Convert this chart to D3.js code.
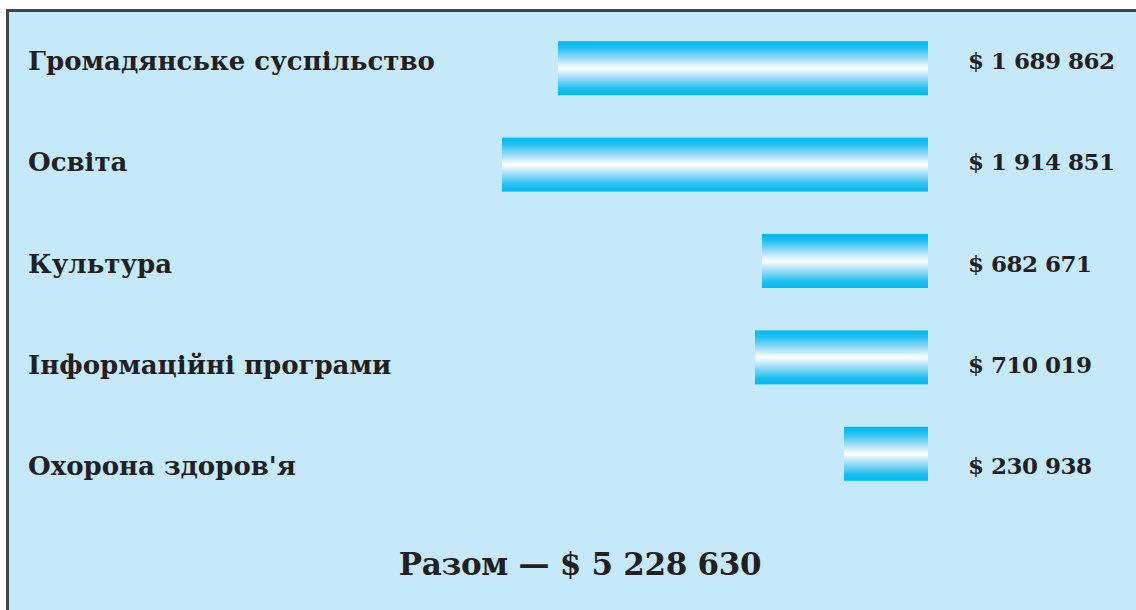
<!DOCTYPE html>
<html>
<head>
<meta charset="utf-8">
<script src="https://cdn.jsdelivr.net/npm/d3@7"></script>
<style>
  html, body { margin: 0; padding: 0; background: #fff; }
  text { font-family: "DejaVu Serif", "Liberation Serif", serif; font-weight: bold; fill: #231f20; }
</style>
</head>
<body>
<div id="chart"></div>
<script>
// categories and amounts as printed
const categories = ['Громадянське суспільство', 'Освіта', 'Культура', 'Інформаційні програми', "Охорона здоров'я"]
const amounts = [1689862, 1914851, 682671, 710019, 230938]
// bar lengths as drawn in the picture (the picture is not to scale), same units
const barLengths = [1663000, 1914851, 746000, 777600, 377600]
const totalAmount = 5228630
const totalLabel = 'Разом — '

const width = 1136
const height = 610

const fmt = v => '$ ' + d3.format(',')(v).replace(/,/g, ' ')

const svg = d3.select('#chart').append('svg')
    .attr('width', width)
    .attr('height', height)

const grad = svg.append('defs').append('linearGradient')
    .attr('id', 'barGrad')
    .attr('x1', 0).attr('y1', 0).attr('x2', 0).attr('y2', 1)
grad.selectAll('stop')
    .data([[0, '#00b9ef'], [0.12, '#1ec0f0'], [0.3, '#8fd8f6'], [0.5, '#ffffff'], [0.7, '#8fd8f6'], [0.88, '#1ec0f0'], [1, '#00b9ef']])
    .join('stop')
    .attr('offset', d => d[0])
    .attr('stop-color', d => d[1])

// panel
svg.append('rect')
    .attr('x', 7.5)
    .attr('y', 10.5)
    .attr('width', width)
    .attr('height', height)
    .attr('fill', '#c6e9f9')
    .attr('stroke', '#454545')
    .attr('stroke-width', 3)

const barRight = 928
const xScale = d3.scaleLinear()
    .domain([0, 2000000])
    .range([0, 445])

// rows for the text and for the bars
const textY = d3.scalePoint()
    .domain(categories)
    .range([61, 466])

const barY = d3.scaleBand()
    .domain(categories)
    .range([20, 502])
    .paddingInner(0.44)
    .paddingOuter(0.22)

const rows = categories.map((c, i) => ({cat: c, amount: amounts[i], len: barLengths[i]}))

svg.append('g').selectAll('rect')
    .data(rows)
    .join('rect')
    .attr('x', d => barRight - xScale(d.len))
    .attr('y', d => barY(d.cat))
    .attr('width', d => xScale(d.len))
    .attr('height', barY.bandwidth())
    .attr('fill', 'url(#barGrad)')

svg.append('g').selectAll('text')
    .data(rows)
    .join('text')
    .attr('x', 28)
    .attr('y', d => textY(d.cat))
    .attr('dy', '0.35em')
    .attr('font-size', 26)
    .text(d => d.cat)

svg.append('g').selectAll('text')
    .data(rows)
    .join('text')
    .attr('x', 968)
    .attr('y', d => textY(d.cat))
    .attr('dy', '0.35em')
    .attr('font-size', 23)
    .attr('letter-spacing', -0.5)
    .text(d => fmt(d.amount))

svg.append('text')
    .attr('x', 580)
    .attr('y', 564)
    .attr('dy', '0.35em')
    .attr('text-anchor', 'middle')
    .attr('font-size', 31)
    .attr('letter-spacing', -0.3)
    .text(totalLabel + fmt(totalAmount))
</script>
</body>
</html>
